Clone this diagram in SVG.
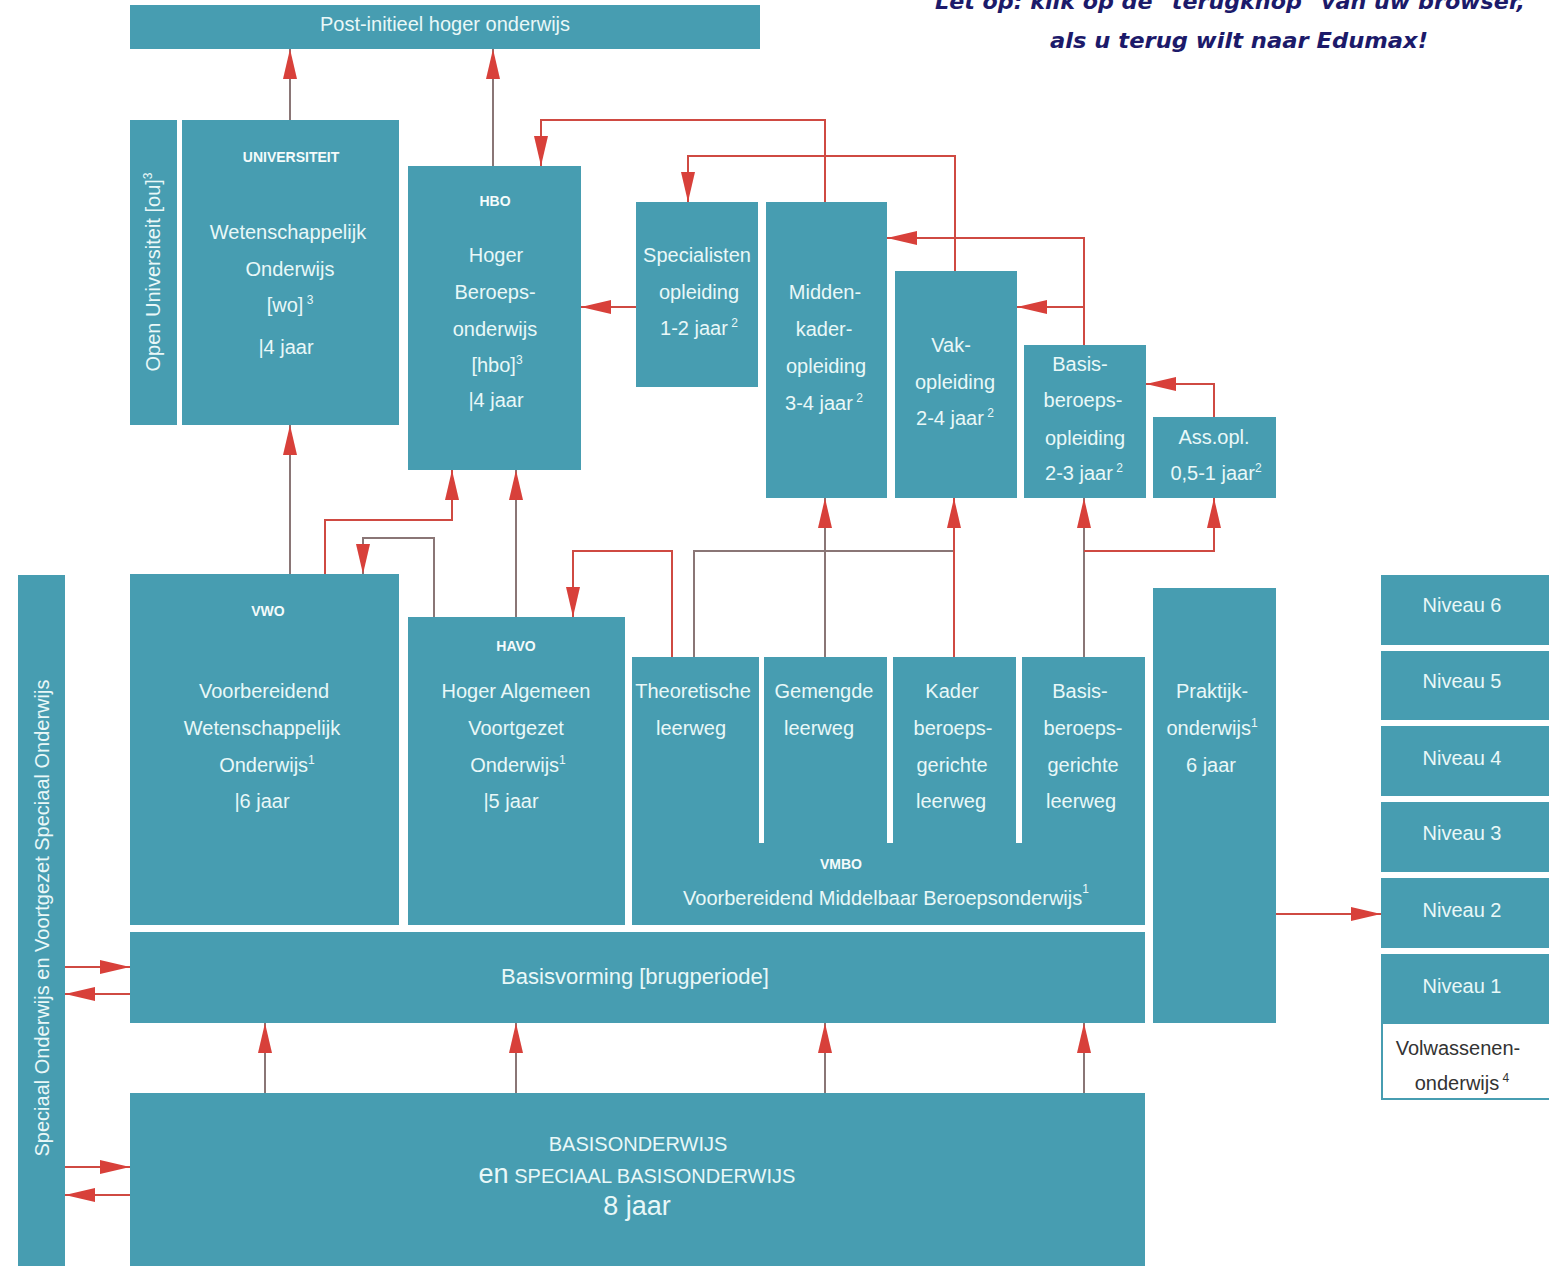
<svg xmlns="http://www.w3.org/2000/svg" width="1549" height="1266" viewBox="0 0 1549 1266">
<defs>
<style>
.box{fill:#479db1}
.t{font-family:"Liberation Sans",Arial,sans-serif;font-size:20px;fill:#e9f8f8;text-anchor:middle}
.h{font-family:"Liberation Sans",Arial,sans-serif;font-size:14px;font-weight:bold;fill:#f4fbfb;text-anchor:middle}
.lg{fill:none;stroke:#8a7676;stroke-width:2}
.lr{fill:none;stroke:#cf4a42;stroke-width:2}
.note{font-family:"DejaVu Sans",Verdana,sans-serif;font-weight:bold;font-style:italic;font-size:22px;fill:#1c1a6a}
</style>
<marker id="ah" markerUnits="userSpaceOnUse" markerWidth="30" markerHeight="14" viewBox="0 0 30 14" refX="30" refY="7" orient="auto">
<path d="M0,0 L30,7 L0,14 z" fill="#d8403a"/>
</marker>
</defs>
<rect width="1549" height="1266" fill="#ffffff"/>

<g id="note">
<text class="note" x="935" y="9" textLength="590" lengthAdjust="spacingAndGlyphs">Let op: klik op de "terugknop" van uw browser,</text>
<text class="note" x="1050" y="48" textLength="378" lengthAdjust="spacingAndGlyphs">als u terug wilt naar Edumax!</text>
</g>

<g id="connectors">
<path class="lg" d="M290,120 V49" marker-end="url(#ah)"/>
<path class="lg" d="M493,166 V49" marker-end="url(#ah)"/>
<path class="lr" d="M825,202 V120 H541 V166" marker-end="url(#ah)"/>
<path class="lr" d="M955,271 V156 H688 V202" marker-end="url(#ah)"/>
<path class="lr" d="M1084,345 V238 H887" marker-end="url(#ah)"/>
<path class="lr" d="M1084,307 H1017" marker-end="url(#ah)"/>
<path class="lr" d="M1214,417 V384 H1146" marker-end="url(#ah)"/>
<path class="lr" d="M636,307 H581" marker-end="url(#ah)"/>
<path class="lg" d="M290,574 V425" marker-end="url(#ah)"/>
<path class="lr" d="M325,574 V520 H452 V470" marker-end="url(#ah)"/>
<path class="lg" d="M434,617 V538 H363 V574" marker-end="url(#ah)"/>
<path class="lg" d="M516,617 V470" marker-end="url(#ah)"/>
<path class="lr" d="M672,657 V551 H573 V617" marker-end="url(#ah)"/>
<path class="lg" d="M694,657 V551 H954"/>
<path class="lg" d="M825,657 V498" marker-end="url(#ah)"/>
<path class="lr" d="M954,657 V498" marker-end="url(#ah)"/>
<path class="lg" d="M1084,657 V498" marker-end="url(#ah)"/>
<path class="lr" d="M1084,551 H1214 V498" marker-end="url(#ah)"/>
<path class="lr" d="M1276,914 H1381" marker-end="url(#ah)"/>
<path class="lr" d="M65,967 H130" marker-end="url(#ah)"/>
<path class="lr" d="M130,994 H65" marker-end="url(#ah)"/>
<path class="lr" d="M65,1167 H130" marker-end="url(#ah)"/>
<path class="lr" d="M130,1195 H65" marker-end="url(#ah)"/>
<path class="lg" d="M265,1093 V1023" marker-end="url(#ah)"/>
<path class="lg" d="M516,1093 V1023" marker-end="url(#ah)"/>
<path class="lg" d="M825,1093 V1023" marker-end="url(#ah)"/>
<path class="lg" d="M1084,1093 V1023" marker-end="url(#ah)"/>
</g>

<g id="post-initieel">
<rect class="box" x="130" y="5" width="630" height="44"/>
<text class="t" x="445" y="31">Post-initieel hoger onderwijs</text>
</g>

<g id="open-universiteit">
<rect class="box" x="130" y="120" width="47" height="305"/>
<text class="t" transform="translate(160,272) rotate(-90)">Open Universiteit [ou]<tspan font-size="12" dy="-8">3</tspan></text>
</g>

<g id="universiteit">
<rect class="box" x="182" y="120" width="217" height="305"/>
<text class="h" x="291" y="162">UNIVERSITEIT</text>
<text class="t" x="288" y="239">Wetenschappelijk</text>
<text class="t" x="290" y="276">Onderwijs</text>
<text class="t" x="290" y="312">[wo]<tspan font-size="12" dy="-8"> 3</tspan></text>
<text class="t" x="286" y="354">|4 jaar</text>
</g>

<g id="hbo">
<rect class="box" x="408" y="166" width="173" height="304"/>
<text class="h" x="495" y="206">HBO</text>
<text class="t" x="496" y="262">Hoger</text>
<text class="t" x="495" y="299">Beroeps-</text>
<text class="t" x="495" y="336">onderwijs</text>
<text class="t" x="497" y="372">[hbo]<tspan font-size="12" dy="-8">3</tspan></text>
<text class="t" x="496" y="407">|4 jaar</text>
</g>

<g id="specialisten">
<rect class="box" x="636" y="202" width="122" height="185"/>
<text class="t" x="697" y="262">Specialisten</text>
<text class="t" x="699" y="299">opleiding</text>
<text class="t" x="699" y="335">1-2 jaar<tspan font-size="12" dy="-8"> 2</tspan></text>
</g>

<g id="middenkader">
<rect class="box" x="766" y="202" width="121" height="296"/>
<text class="t" x="825" y="299">Midden-</text>
<text class="t" x="824" y="336">kader-</text>
<text class="t" x="826" y="373">opleiding</text>
<text class="t" x="824" y="410">3-4 jaar<tspan font-size="12" dy="-8"> 2</tspan></text>
</g>

<g id="vakopleiding">
<rect class="box" x="895" y="271" width="122" height="227"/>
<text class="t" x="951" y="352">Vak-</text>
<text class="t" x="955" y="389">opleiding</text>
<text class="t" x="955" y="425">2-4 jaar<tspan font-size="12" dy="-8"> 2</tspan></text>
</g>

<g id="basisberoepsopleiding">
<rect class="box" x="1024" y="345" width="122" height="153"/>
<text class="t" x="1080" y="371">Basis-</text>
<text class="t" x="1083" y="407">beroeps-</text>
<text class="t" x="1085" y="445">opleiding</text>
<text class="t" x="1084" y="480">2-3 jaar<tspan font-size="12" dy="-8"> 2</tspan></text>
</g>

<g id="assopl">
<rect class="box" x="1153" y="417" width="123" height="81"/>
<text class="t" x="1214" y="444">Ass.opl.</text>
<text class="t" x="1216" y="480">0,5-1 jaar<tspan font-size="12" dy="-8">2</tspan></text>
</g>

<g id="speciaal-onderwijs">
<rect class="box" x="18" y="575" width="47" height="691"/>
<text class="t" transform="translate(49,918) rotate(-90)">Speciaal Onderwijs en Voortgezet Speciaal Onderwijs</text>
</g>

<g id="vwo">
<rect class="box" x="130" y="574" width="269" height="351"/>
<text class="h" x="268" y="616">VWO</text>
<text class="t" x="264" y="698">Voorbereidend</text>
<text class="t" x="262" y="735">Wetenschappelijk</text>
<text class="t" x="267" y="772">Onderwijs<tspan font-size="12" dy="-8">1</tspan></text>
<text class="t" x="262" y="808">|6 jaar</text>
</g>

<g id="havo">
<rect class="box" x="408" y="617" width="217" height="308"/>
<text class="h" x="516" y="651">HAVO</text>
<text class="t" x="516" y="698">Hoger Algemeen</text>
<text class="t" x="516" y="735">Voortgezet</text>
<text class="t" x="518" y="772">Onderwijs<tspan font-size="12" dy="-8">1</tspan></text>
<text class="t" x="511" y="808">|5 jaar</text>
</g>

<g id="vmbo">
<rect class="box" x="632" y="657" width="513" height="268"/>
<rect x="759" y="657" width="5" height="186" fill="#ffffff"/>
<rect x="887" y="657" width="6" height="186" fill="#ffffff"/>
<rect x="1016" y="657" width="6" height="186" fill="#ffffff"/>
<text class="t" x="693" y="698">Theoretische</text>
<text class="t" x="691" y="735">leerweg</text>
<text class="t" x="824" y="698">Gemengde</text>
<text class="t" x="819" y="735">leerweg</text>
<text class="t" x="952" y="698">Kader</text>
<text class="t" x="953" y="735">beroeps-</text>
<text class="t" x="952" y="772">gerichte</text>
<text class="t" x="951" y="808">leerweg</text>
<text class="t" x="1080" y="698">Basis-</text>
<text class="t" x="1083" y="735">beroeps-</text>
<text class="t" x="1083" y="772">gerichte</text>
<text class="t" x="1081" y="808">leerweg</text>
<text class="h" x="841" y="869">VMBO</text>
<text class="t" x="886" y="905">Voorbereidend Middelbaar Beroepsonderwijs<tspan font-size="12" dy="-12">1</tspan></text>
</g>

<g id="praktijkonderwijs">
<rect class="box" x="1153" y="588" width="123" height="435"/>
<text class="t" x="1212" y="698">Praktijk-</text>
<text class="t" x="1212" y="735">onderwijs<tspan font-size="12" dy="-8">1</tspan></text>
<text class="t" x="1211" y="772">6 jaar</text>
</g>

<g id="basisvorming">
<rect class="box" x="130" y="932" width="1015" height="91"/>
<text class="t" x="635" y="984" style="font-size:22px">Basisvorming [brugperiode]</text>
</g>

<g id="basisonderwijs">
<rect class="box" x="130" y="1093" width="1015" height="173"/>
<text class="t" x="638" y="1151">BASISONDERWIJS</text>
<text class="t" x="637" y="1183"><tspan style="font-size:27px">en</tspan> SPECIAAL BASISONDERWIJS</text>
<text class="t" x="637" y="1215" style="font-size:27px">8 jaar</text>
</g>

<g id="niveaus">
<rect class="box" x="1381" y="575" width="168" height="70"/>
<text class="t" x="1462" y="612">Niveau 6</text>
<rect class="box" x="1381" y="651" width="168" height="69"/>
<text class="t" x="1462" y="688">Niveau 5</text>
<rect class="box" x="1381" y="726" width="168" height="70"/>
<text class="t" x="1462" y="765">Niveau 4</text>
<rect class="box" x="1381" y="802" width="168" height="70"/>
<text class="t" x="1462" y="840">Niveau 3</text>
<rect class="box" x="1381" y="878" width="168" height="70"/>
<text class="t" x="1462" y="917">Niveau 2</text>
<rect class="box" x="1381" y="954" width="168" height="69"/>
<text class="t" x="1462" y="993">Niveau 1</text>
</g>

<g id="volwassenenonderwijs">
<rect x="1382" y="1023" width="200" height="76" fill="#ffffff" stroke="#479db1" stroke-width="2"/>
<text class="t" x="1458" y="1055" style="fill:#333333">Volwassenen-</text>
<text class="t" x="1462" y="1090" style="fill:#333333">onderwijs<tspan font-size="12" dy="-8"> 4</tspan></text>
</g>
</svg>
